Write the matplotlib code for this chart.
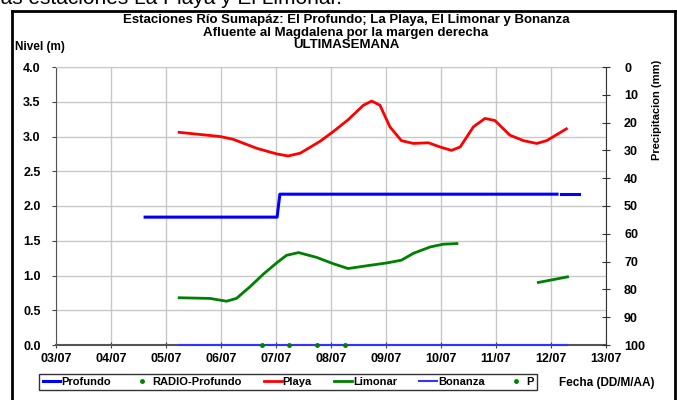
import matplotlib
matplotlib.use("Agg")
import matplotlib.pyplot as plt
from matplotlib.lines import Line2D

plt.rcParams['font.family'] = ['Liberation Sans', 'DejaVu Sans']
plt.rcParams['font.weight'] = 'bold'

# x values are day of July (3 = 03/07)
profundo_x = [4.62, 7.02, 7.07, 12.11]
profundo_y = [1.84, 1.84, 2.17, 2.17]
profundo2_x = [12.18, 12.51]
profundo2_y = [2.17, 2.17]

playa_x = [5.24, 5.98, 6.22, 6.65, 7.01, 7.22, 7.44, 7.80, 8.04, 8.31, 8.59, 8.74,
           8.89, 9.07, 9.28, 9.50, 9.77, 9.98, 10.19, 10.35, 10.59, 10.80, 10.98,
           11.25, 11.50, 11.74, 11.92, 12.28]
playa_y = [3.06, 3.00, 2.96, 2.83, 2.75, 2.72, 2.76, 2.93, 3.07, 3.24, 3.45, 3.51,
           3.45, 3.14, 2.94, 2.90, 2.91, 2.85, 2.80, 2.85, 3.14, 3.26, 3.23,
           3.02, 2.94, 2.90, 2.94, 3.11]

limonar_x = [5.24, 5.80, 6.10, 6.28, 6.53, 6.77, 7.01, 7.19, 7.41, 7.74, 8.04, 8.31,
             8.65, 9.01, 9.28, 9.50, 9.80, 10.04, 10.29]
limonar_y = [0.68, 0.67, 0.63, 0.67, 0.84, 1.02, 1.18, 1.29, 1.33, 1.26, 1.17, 1.10,
             1.14, 1.18, 1.22, 1.32, 1.41, 1.45, 1.46]
limonar2_x = [11.77, 12.30]
limonar2_y = [0.90, 0.98]

bonanza_x = [5.24, 12.29]
bonanza_y = [0.0, 0.0]

radio_x = [6.75, 7.24, 7.75, 8.26]
radio_y = [0.0, 0.0, 0.0, 0.0]

day_ticks = list(range(3, 14))
day_labels = ["%02d/07" % d for d in day_ticks]

fig = plt.figure(figsize=(6.77, 4.0), dpi=100)
ax = fig.add_axes([56/677, 55/400, 550/677, 278/400])

ax.plot(bonanza_x, bonanza_y, color='#3333ff', lw=1.5, clip_on=False, zorder=3)
ax.plot(profundo_x, profundo_y, color='#0000ff', lw=2.2, zorder=4)
ax.plot(profundo2_x, profundo2_y, color='#0000ff', lw=2.2, zorder=4)
ax.plot(playa_x, playa_y, color='#ff0000', lw=2, zorder=4)
ax.plot(limonar_x, limonar_y, color='#008000', lw=2, zorder=4)
ax.plot(limonar2_x, limonar2_y, color='#008000', lw=2, zorder=4)
ax.plot(radio_x, radio_y, 'o', color='#008000', ms=2.5, clip_on=False, zorder=5)

ax.set_xlim(3, 13)
ax.set_ylim(0, 4)
ax.set_xticks(day_ticks)
ax.set_xticklabels(day_labels)
ax.set_yticks([i * 0.5 for i in range(9)])
ax.set_yticklabels(["%.1f" % (i * 0.5) for i in range(9)])
ax.grid(True, color='#c8c8c8', lw=1)
ax.set_axisbelow(True)
ax.spines['top'].set_color('#c8c8c8')
ax.spines['left'].set_color('#555555')
ax.spines['bottom'].set_color('#555555')
ax.spines['bottom'].set_linewidth(1.5)
ax.spines['right'].set_visible(False)
ax.tick_params(axis='y', labelsize=9, length=3, color='#444444', pad=8)
ax.tick_params(axis='x', labelsize=9, direction='inout', length=5, color='#444444', pad=3)

ax2 = ax.twinx()
ax2.set_ylim(100, 0)
ax2.set_yticks(range(0, 101, 10))
ax2.tick_params(axis='y', labelsize=9, direction='inout', length=6, color='#333333', pad=10)
ax2.spines['right'].set_color('#333333')
for s in ['top', 'left', 'bottom']:
    ax2.spines[s].set_visible(False)

fig.text(657/677, 1 - 110/400, 'Precipitacion (mm)', rotation=90, ha='center', va='center',
         fontsize=8, fontweight='bold')
fig.text(15/677, 1 - 47/400, 'Nivel (m)', ha='left', va='center', fontsize=8.5, fontweight='bold')
fig.text(346/677, 1 - 20/400, 'Estaciones Río Sumapáz: El Profundo; La Playa, El Limonar y Bonanza',
         ha='center', va='center', fontsize=9.5, fontweight='bold')
fig.text(346/677, 1 - 33/400, 'Afluente al Magdalena por la margen derecha',
         ha='center', va='center', fontsize=9.5, fontweight='bold')
fig.text(346/677, 1 - 45/400, 'ULTIMASEMANA', ha='center', va='center', fontsize=9.5, fontweight='bold')
fig.text(-4/677, 1 - 4/400, 'las estaciones La Playa y El Limonar.', ha='left', va='baseline',
         fontsize=15, fontweight='normal')
fig.text(607/677, 1 - 383/400, 'Fecha (DD/M/AA)', ha='center', va='center', fontsize=8.5, fontweight='bold')

# outer frame
fig.add_artist(Line2D([12/677, 12/677], [-0.01, 1 - 11/400], color='black', lw=2, transform=fig.transFigure))
fig.add_artist(Line2D([12/677, 675/677], [1 - 11/400, 1 - 11/400], color='black', lw=2, transform=fig.transFigure))
fig.add_artist(Line2D([675/677, 675/677], [-0.01, 1 - 11/400], color='black', lw=2, transform=fig.transFigure))

handles = [
    Line2D([], [], color='#0000ff', lw=2.2),
    Line2D([], [], color='#008000', marker='o', ls='none', ms=2.5),
    Line2D([], [], color='#ff0000', lw=2),
    Line2D([], [], color='#008000', lw=2),
    Line2D([], [], color='#3333ff', lw=1.5),
    Line2D([], [], color='#008000', marker='o', ls='none', ms=2.5),
]
labels = ['Profundo', 'RADIO-Profundo', 'Playa', 'Limonar', 'Bonanza', 'P']
leg = fig.legend(handles, labels, loc='center', bbox_to_anchor=(288/677, 1 - 382/400),
                 ncol=6, frameon=True, fancybox=False, edgecolor='black',
                 handlelength=1.6, handletextpad=0.1, columnspacing=2.0, borderpad=0.3,
                 prop={'weight': 'bold', 'size': 8})
leg.get_frame().set_linewidth(1)

fig.savefig('out.png', dpi=100)
